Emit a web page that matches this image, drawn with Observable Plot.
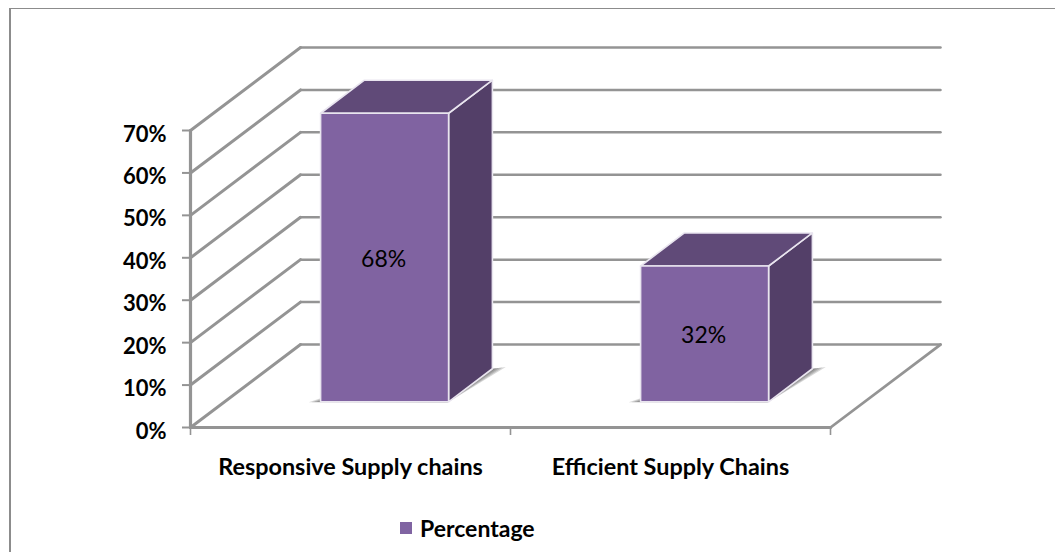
<!DOCTYPE html>
<html>
<head>
<meta charset="utf-8">
<script src="https://cdn.jsdelivr.net/npm/d3@7"></script>
<script src="https://cdn.jsdelivr.net/npm/@observablehq/plot@0.6"></script>
<style>
  html, body { margin: 0; background: #fff; font-family: Lato, sans-serif; }
  #page { position: relative; width: 1055px; height: 552px; overflow: hidden; }
  #edge { position: absolute; left: 9px; top: 8px; right: -4px; bottom: -4px;
          border-left: 2.5px solid #8c8c8c; border-top: 1.5px solid #8c8c8c; }
  #chart { position: absolute; left: 0; top: 0; }
  #legend { position: absolute; left: 400px; top: 514px; display: flex; align-items: center;
            font-weight: 700; font-size: 23px; line-height: 28px; color: #000; }
  #legend i { display: block; width: 12px; height: 12px; margin-right: 8px; background: #8064a2; }
</style>
</head>
<body>
<div id="page">
  <div id="edge"></div>
  <div id="chart"></div>
  <div id="legend"><i></i><span id="legend-name"></span></div>
</div>
<script>
const categories = ["Responsive Supply chains", "Efficient Supply Chains"];
const percentages = [68, 32];
const percentTicks = [0, 10, 20, 30, 40, 50, 60, 70];
const seriesName = "Percentage";

// Oblique projection: one unit of depth moves a point right and up, in data units.
const depthX = 0.34375;
const depthY = 19.56;
const project = (cat, pct, depth) => ({x: cat + depth * depthX, y: pct + depth * depthY});

const categoryCount = categories.length;
const barStart = 0.3, barEnd = 0.7;        // offsets within a category slot
const depthNear = 0.31, depthFar = 0.708;  // where bars sit on the floor

const gridColor = "#949494";

// Walls and floor
const backLines = percentTicks.map((p) => [project(0, p, 1), project(categoryCount, p, 1)]);
const sideLines = percentTicks.map((p) => [project(0, p, 0), project(0, p, 1)]);
const floorRight = [project(categoryCount, 0, 0), project(categoryCount, 0, 1)];
const axisBase = [project(0, 0, 0), project(categoryCount, 0, 0)];
const axisWall = [project(0, 0, 0), project(0, percentTicks[percentTicks.length - 1], 0)];

// Faces of each 3D bar as closed outlines
const bars = percentages.map((v, i) => {
  const a = i + barStart, b = i + barEnd;
  return {
    a, b,
    front: [project(a, 0, depthNear), project(b, 0, depthNear), project(b, v, depthNear), project(a, v, depthNear), project(a, 0, depthNear)],
    top: [project(a, v, depthNear), project(b, v, depthNear), project(b, v, depthFar), project(a, v, depthFar), project(a, v, depthNear)],
    side: [project(b, 0, depthNear), project(b, 0, depthFar), project(b, v, depthFar), project(b, v, depthNear), project(b, 0, depthNear)],
    label: project(i + (barStart + barEnd) / 2, v / 2, depthNear),
    text: `${v}%`
  };
});

// Floor shadow: nested translucent wedges that fade outward from the bar's foot
const shadowLayers = [1, 0.75, 0.5, 0.3];
const shadowMarks = bars.flatMap(({a, b}) =>
  shadowLayers.map((s) => Plot.line([
    project(a - 0.035 * s, 0, depthNear - 0.006 * s),
    project(b, 0, depthNear - 0.012 * s),
    project(b + 0.035 * s, 0, depthFar + 0.02 * s),
    project(b, 0, depthFar),
    project(a, 0, depthNear + 0.08 * s),
    project(a - 0.035 * s, 0, depthNear - 0.006 * s)
  ], {x: "x", y: "y", fill: "#404040", fillOpacity: 0.2, strokeWidth: 0}))
);

const gridLine = (pts, strokeWidth) =>
  Plot.line(pts, {x: "x", y: "y", stroke: gridColor, strokeWidth, strokeLinejoin: "round"});

const face = (key, fill) =>
  bars.map((bar) => Plot.line(bar[key], {
    x: "x", y: "y", fill, stroke: "#e9e5ef", strokeWidth: 1.6, strokeLinejoin: "round"
  }));

const chart = Plot.plot({
  width: 1055,
  height: 505,
  marginLeft: 190,
  marginRight: 225,
  marginTop: 130,
  marginBottom: 78,
  style: {fontFamily: "Lato, sans-serif", background: "transparent", overflow: "visible"},
  x: {domain: [0, categoryCount], axis: null},
  y: {domain: [0, percentTicks[percentTicks.length - 1]], axis: null},
  marks: [
    ...backLines.map((l) => gridLine(l, 2.5)),
    ...sideLines.map((l) => gridLine(l, 3)),
    gridLine(floorRight, 2.8),
    gridLine(axisBase, 3.2),
    gridLine(axisWall, 3.2),
    ...shadowMarks,
    ...face("side", "#533f68"),
    ...face("top", "#604a78"),
    ...face("front", "#8063a1"),
    Plot.text(bars, {
      x: (d) => d.label.x, y: (d) => d.label.y, text: "text",
      fontSize: 23, fill: "#000", dx: -1, dy: 2
    }),
    Plot.axisY({
      ticks: percentTicks, tickSize: 8, tickFormat: () => "", label: null,
      stroke: gridColor, strokeWidth: 2
    }),
    Plot.axisY({
      ticks: percentTicks, tickSize: 0, tickPadding: 24, label: null,
      tickFormat: (d) => `${d}%`,
      fill: "#000", fontSize: 22, fontWeight: 700, dy: 4
    }),
    Plot.axisX({
      ticks: d3.range(categoryCount + 1), tickSize: 8, tickFormat: () => "",
      stroke: gridColor, strokeWidth: 1.6, label: null
    }),
    Plot.axisX({
      ticks: categories.map((_, i) => i + 0.5), tickSize: 0, tickPadding: 31, label: null,
      tickFormat: (d) => categories[Math.floor(d)],
      fill: "#000", fontSize: 23.4, fontWeight: 700
    })
  ]
});

document.getElementById("chart").append(chart);
document.getElementById("legend-name").textContent = seriesName;
</script>
</body>
</html>
